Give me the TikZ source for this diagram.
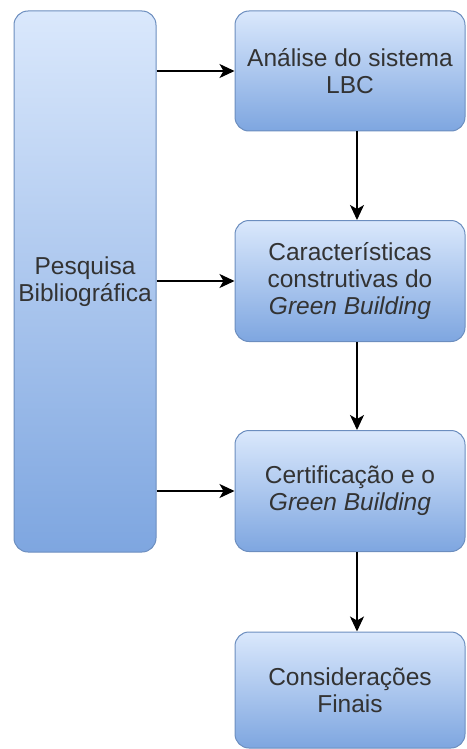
\documentclass[tikz,border=0pt]{standalone}
\usepackage{fontspec}
\setmainfont{Liberation Sans}
\usetikzlibrary{arrows.meta}
\definecolor{boxtop}{HTML}{DAE8FC}
\definecolor{boxbottom}{HTML}{7EA6E0}
\definecolor{boxline}{HTML}{6C8EBF}
\definecolor{boxtext}{HTML}{333333}
\begin{document}
\begin{tikzpicture}[
        x=1pt, y=-1pt,
        stage/.style={draw=boxline,line width=1pt,rounded corners=14pt,
            top color=boxtop,bottom color=boxbottom,text=boxtext,
            align=center,inner sep=0pt,
            font=\fontsize{24.5}{27}\selectfont},
        rbox/.style={stage,minimum width=230pt,minimum height=#1},
        flow/.style={-{Stealth[length=15pt,width=14pt,inset=4pt]},line width=1.5pt},
        ]
    \useasboundingbox (0,0) rectangle (466,749);
    \node (pesq) [stage,minimum width=142pt,minimum height=541pt] at (85,281.5)
        {Pesquisa\\Bibliográfica};
    \node (lbc) [rbox=120pt] at (350,71) {Análise do sistema\\LBC};
    \node (carac) [rbox=121pt] at (350,281)
        {Características\\construtivas do\\\textit{Green Building}};
    \node (cert) [rbox=121pt] at (350,491)
        {Certificação e o\\\textit{Green Building}};
    \node (cons) [rbox=116pt] at (350,690) {Considerações\\Finais};
    % arrows from the research box
    \draw[flow] (lbc.west -| pesq.east) -- (lbc.west);
    \draw[flow] (carac.west -| pesq.east) -- (carac.west);
    \draw[flow] (cert.west -| pesq.east) -- (cert.west);
    % arrows down the chain
    \draw[flow] ([xshift=7pt]lbc.south) -- ([xshift=7pt]carac.north);
    \draw[flow] ([xshift=7pt]carac.south) -- ([xshift=7pt]cert.north);
    \draw[flow] ([xshift=7pt]cert.south) -- ([xshift=7pt]cons.north);
\end{tikzpicture}
\end{document}
